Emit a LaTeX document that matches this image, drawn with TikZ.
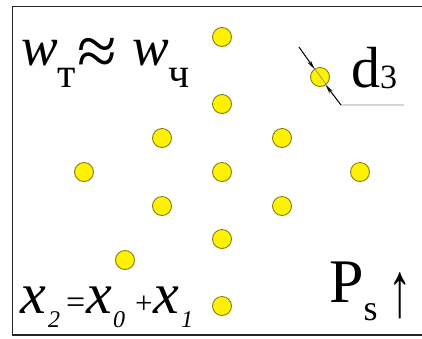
\documentclass[tikz,border=0pt]{standalone}
\usepackage{fontspec}
\setmainfont{Liberation Serif}
\usetikzlibrary{arrows.meta}
\definecolor{dotfill}{HTML}{FFF200}
\definecolor{dotedge}{HTML}{857D10}
\definecolor{leader}{HTML}{8C8C8C}
\newcommand{\fs}[1]{\fontsize{#1}{#1}\selectfont}
\newcommand{\lowsub}[3]{\raisebox{-#1pt}{\fs{#2}#3}}
\tikzset{
  >={Stealth[length=9pt,width=4pt]},
  dot/.style={circle,draw=dotedge,fill=dotfill,line width=0.9pt,
    minimum size=19pt,inner sep=0pt},
  frame/.style={line width=1.6pt,draw=black!85},
  dimline/.style={draw=leader,line width=0.7pt},
  dimarrow/.style={->,draw=black,line width=0.9pt},
  txt/.style={anchor=base west,inner sep=0pt}
}
\begin{document}
\begin{tikzpicture}[x=1pt,y=-1pt]
  \useasboundingbox (0,0) rectangle (422,338);
  \draw[frame] (422,6.5) -- (12.5,6.5) -- (12.5,335) -- (422,335);
  % lattice of dots
  \foreach \n/\x/\y in {t1/222/37, t2/222/104, l1/162/138, r1/282/138,
      l2/84/172, c/222/172, r2/360/172, l3/162/206, r3/282/206,
      b1/222/239, b2/125/260, b3/222/306}
    \node[dot] (\n) at (\x,\y) {};
  % dot with its diameter
  \node[dot] (dd) at (320,77) {};
  \coordinate (dimA) at (299,47);
  \coordinate (dimB) at (341,105);
  \coordinate (dimC) at (404,105);
  \draw[dimline] (dimA) -- (dimB) -- (dimC);
  \draw[dimarrow] (dimA) -- (dd.125);
  \draw[dimarrow] (dimB) -- (dd.-55);
  \node[txt] (diam) at (351,87) {\fs{58}d\lowsub{1}{34}{3}};
  % labels
  \node[txt] (wrel) at (21,65) {\fs{55}%
    \makebox[56pt][l]{\textit{w}\lowsub{22}{42}{т}}%
    \makebox[55pt][l]{\raisebox{-10pt}{\fs{72}≈}}%
    \textit{w}\lowsub{22}{42}{ч}};
  \node[txt] (xsum) at (20,313) {\fs{58}%
    \makebox[28pt][l]{\textit{x}}\makebox[18pt][l]{\lowsub{14}{24}{\textit{2}}}%
    \makebox[20pt][l]{\fs{34}=}%
    \makebox[27pt][l]{\textit{x}}\makebox[22pt][l]{\lowsub{14}{24}{\textit{0}}}%
    \makebox[18pt][l]{\fs{31}+}%
    \makebox[28pt][l]{\textit{x}}\lowsub{14}{24}{\textit{1}}};
  \node[txt] (ps) at (329,302) {\fs{62}P\lowsub{18}{36}{s}};
  \node[txt] (up) at (388,316) {\scalebox{0.6}[1]{\fs{78}↑}};
\end{tikzpicture}
\end{document}
